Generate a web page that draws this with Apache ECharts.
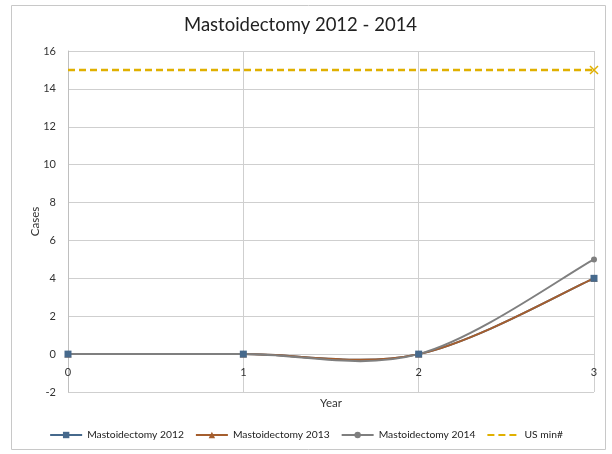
<!DOCTYPE html>
<html>
<head>
<meta charset="utf-8">
<script src="https://cdn.jsdelivr.net/npm/echarts@6/dist/echarts.min.js"></script>
<style>
  html, body { margin: 0; padding: 0; background: #fff; }
  #chart { width: 612px; height: 454px; }
</style>
</head>
<body>
<div id="chart"></div>
<script>
// Year index along the x axis
const years = [0, 1, 2, 3];
// Case counts per series
const cases2012 = [0, 0, 0, 4];
const cases2013 = [0, 0, 0, 4];
const cases2014 = [0, 0, 0, 5];
const usMinimum = [15, 15, 15, 15];
const yTicks = { min: -2, max: 16, step: 2 };

const FONT = 'Lato';
const pairs = (vals) => years.map((x, i) => [x, vals[i]]);

// Catmull-Rom style spline segment (spreadsheet "smoothed line"), drawn in pixel space
function splineSeries(name, vals, color, z) {
  return {
    name: name + ' curve',
    type: 'custom',
    data: pairs(vals),
    z: z,
    silent: true,
    renderItem: function (params, api) {
      const i = params.dataIndex;
      const n = vals.length;
      if (i >= n - 1) return null;
      const P = (k) => {
        const j = Math.max(0, Math.min(n - 1, k));
        return api.coord([years[j], vals[j]]);
      };
      const p0 = P(i - 1), p1 = P(i), p2 = P(i + 1), p3 = P(i + 2);
      return {
        type: 'bezierCurve',
        shape: {
          x1: p1[0], y1: p1[1],
          x2: p2[0], y2: p2[1],
          cpx1: p1[0] + (p2[0] - p0[0]) / 6, cpy1: p1[1] + (p2[1] - p0[1]) / 6,
          cpx2: p2[0] - (p3[0] - p1[0]) / 6, cpy2: p2[1] - (p3[1] - p1[1]) / 6
        },
        style: { stroke: color, lineWidth: 2, fill: null }
      };
    }
  };
}

// Marker-only line series (carries the legend entry)
function markerSeries(name, vals, symbol, size, color, z) {
  return {
    name: name,
    type: 'line',
    data: pairs(vals),
    symbol: symbol,
    symbolSize: size,
    lineStyle: { color: color, width: 2, opacity: 0 },
    itemStyle: { color: color },
    z: z
  };
}

const C2012 = '#46698c', C2013 = '#a55e2e', C2014 = '#7f7f7f', CUS = '#e0b000';

const chart = echarts.init(document.getElementById('chart'));
chart.setOption({
  animation: false,
  textStyle: { fontFamily: FONT },
  title: {
    text: 'Mastoidectomy 2012 - 2014',
    left: 179,
    top: 11,
    textStyle: { fontFamily: FONT, fontSize: 18.5, fontWeight: 'normal', color: '#222' }
  },
  graphic: [{
    type: 'rect',
    shape: { x: 11.5, y: 5.5, width: 594, height: 444 },
    style: { fill: 'none', stroke: '#c8c8c8', lineWidth: 1 },
    silent: true
  }],
  grid: { left: 68, right: 18, top: 51, bottom: 62 },
  legend: {
    bottom: 9,
    left: 'center',
    itemWidth: 32,
    itemHeight: 8,
    itemGap: 11,
    textStyle: { fontFamily: FONT, fontSize: 10.3, color: '#222' },
    data: [
      { name: 'Mastoidectomy 2012', lineStyle: { opacity: 1, color: C2012 } },
      { name: 'Mastoidectomy 2013', lineStyle: { opacity: 1, color: C2013 } },
      { name: 'Mastoidectomy 2014', lineStyle: { opacity: 1, color: C2014 } },
      { name: 'US min#', itemStyle: { opacity: 0, borderWidth: 0 } }
    ]
  },
  xAxis: {
    type: 'value',
    min: 0, max: 3, interval: 1,
    name: 'Year',
    nameLocation: 'middle',
    nameGap: 5,
    nameMoveOverlap: false,
    nameTextStyle: { fontFamily: FONT, fontSize: 11.5, color: '#333', verticalAlign: 'top' },
    // the value axis line itself is covered by the zero-level series lines
    axisLine: { show: false, onZero: false },
    axisTick: { show: false },
    // tick labels sit just under the zero level of the y axis
    axisLabel: { margin: -25, fontSize: 11, color: '#333', fontFamily: FONT },
    splitLine: { show: true, lineStyle: { color: '#cfcfcf' } }
  },
  yAxis: {
    type: 'value',
    min: yTicks.min, max: yTicks.max, interval: yTicks.step,
    name: 'Cases',
    nameLocation: 'middle',
    nameGap: 27,
    nameMoveOverlap: false,
    nameTextStyle: { fontFamily: FONT, fontSize: 11.5, color: '#333' },
    axisLine: { show: true, onZero: false, lineStyle: { color: '#bfbfbf' } },
    axisTick: { show: false },
    axisLabel: { margin: 12, fontSize: 11, color: '#333', fontFamily: FONT },
    splitLine: { show: true, lineStyle: { color: '#cfcfcf' } }
  },
  series: [
    splineSeries('Mastoidectomy 2012', cases2012, C2012, 2),
    splineSeries('Mastoidectomy 2013', cases2013, C2013, 3),
    splineSeries('Mastoidectomy 2014', cases2014, C2014, 4),
    markerSeries('Mastoidectomy 2013', cases2013, 'triangle', 7, C2013, 6),
    markerSeries('Mastoidectomy 2014', cases2014, 'circle', 6, C2014, 6),
    markerSeries('Mastoidectomy 2012', cases2012, 'rect', 7, C2012, 7),
    {
      name: 'US min#',
      type: 'line',
      symbol: 'none',
      data: years.map((x, i) => (i === years.length - 1
        ? { value: [x, usMinimum[i]], symbol: 'path://M0,0L10,10M10,0L0,10' }
        : [x, usMinimum[i]])),
      symbolSize: 8,
      lineStyle: { color: CUS, width: 2.5, type: [7, 4] },
      itemStyle: { color: 'rgba(0,0,0,0)', borderColor: CUS, borderWidth: 1.5 },
      z: 5
    }
  ]
});
</script>
</body>
</html>
